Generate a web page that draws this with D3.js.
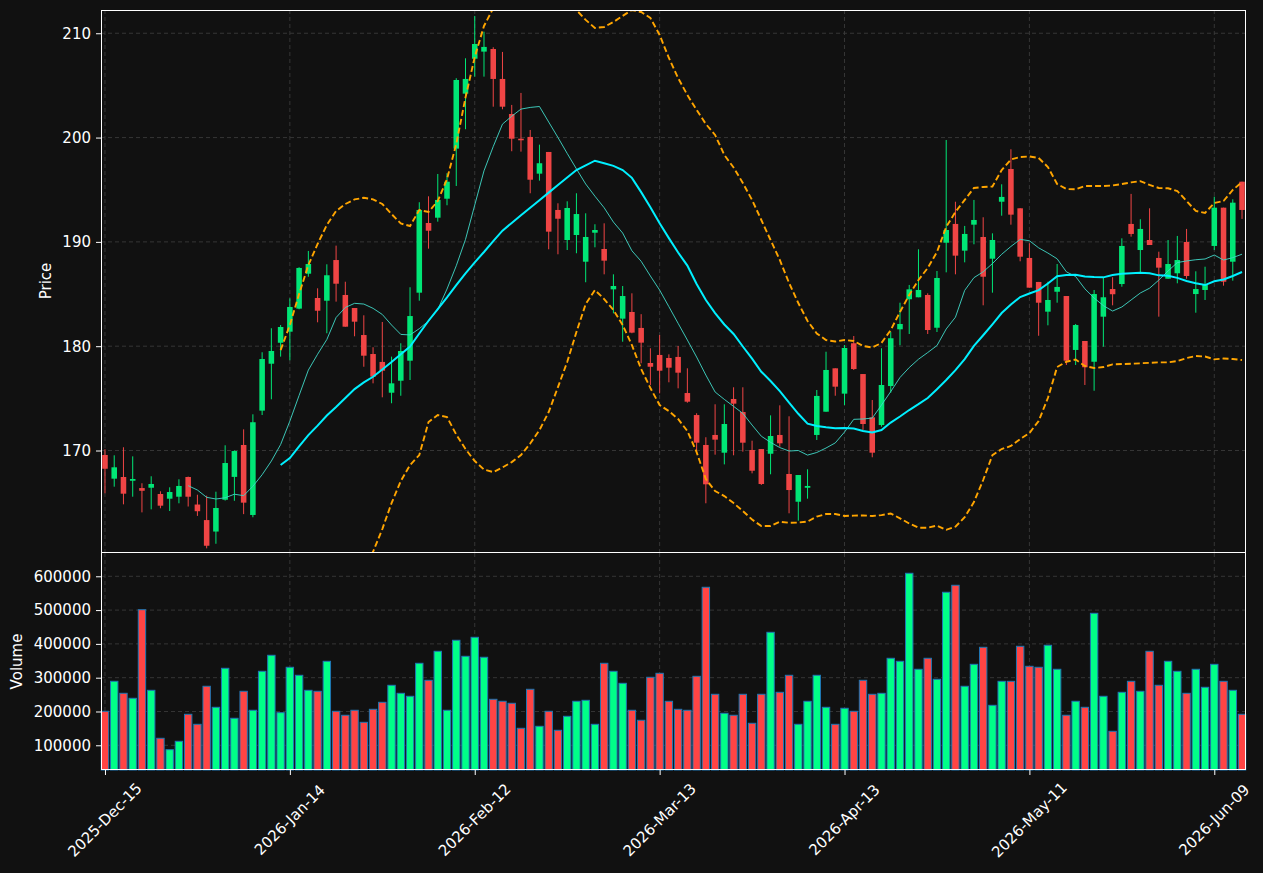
<!DOCTYPE html>
<html>
<head>
<meta charset="utf-8">
<script src="https://cdn.jsdelivr.net/npm/d3@7"></script>
<style>
  body { margin: 0; background: #111111; }
  svg text { font-family: "DejaVu Sans", sans-serif; fill: #ffffff; }
</style>
</head>
<body>
<svg id="chart" width="1263" height="873"></svg>
<script>
// ---- data (trading-day index 0..123) ----
var tickIdx = [0, 20, 40, 60, 80, 100, 120];
var tickLabels = ["2025-Dec-15", "2026-Jan-14", "2026-Feb-12", "2026-Mar-13", "2026-Apr-13", "2026-May-11", "2026-Jun-09"];
var priceTicks = [170, 180, 190, 200, 210];
var volumeTicks = [100000, 200000, 300000, 400000, 500000, 600000];

var open = [
  169.57, 167.30, 167.46, 167.10, 166.40, 166.43, 165.83, 165.38, 165.57, 167.46,
  164.82, 163.33, 162.23, 165.28, 167.47, 170.53, 163.82, 173.82, 178.32, 180.33,
  181.39, 183.60, 186.95, 184.62, 184.36, 188.26, 184.91, 183.66, 181.07, 179.25,
  178.49, 175.54, 176.69, 178.61, 185.13, 191.81, 192.32, 194.14, 198.94, 204.21,
  207.56, 208.24, 208.49, 205.62, 202.26, 199.89, 200.06, 196.54, 198.62, 193.06,
  190.18, 190.66, 188.10, 190.88, 189.32, 185.45, 182.64, 183.28, 181.75, 178.39,
  179.16, 178.87, 178.97, 175.51, 173.40, 170.53, 171.49, 169.79, 174.94, 173.69,
  170.05, 170.14, 169.69, 171.49, 167.75, 165.09, 166.43, 171.49, 173.72, 177.88,
  175.45, 180.28, 177.33, 173.18, 172.44, 176.18, 181.62, 184.50, 184.69, 184.91,
  181.77, 189.92, 191.72, 189.16, 191.65, 190.47, 188.39, 193.85, 196.99, 193.22,
  188.46, 186.16, 183.31, 185.22, 184.81, 179.64, 180.50, 178.51, 182.83, 185.48,
  185.96, 191.72, 189.22, 190.18, 188.46, 186.47, 186.99, 189.99, 185.00, 185.39,
  189.61, 193.28, 188.10, 195.77
];
var high = [
  170.12, 169.54, 170.31, 169.44, 166.86, 167.53, 166.09, 166.47, 167.24, 167.50,
  165.76, 165.67, 166.05, 170.50, 170.00, 172.03, 173.47, 179.42, 181.72, 182.03,
  184.59, 187.57, 189.13, 185.55, 187.85, 189.64, 186.18, 183.66, 182.96, 179.90,
  182.32, 179.00, 180.28, 185.65, 193.80, 194.37, 196.51, 196.58, 205.69, 207.60,
  211.66, 210.15, 208.66, 208.21, 203.13, 204.28, 200.73, 199.32, 198.62, 193.70,
  193.89, 194.66, 192.74, 191.69, 191.78, 186.89, 185.77, 185.07, 183.07, 179.80,
  181.07, 179.22, 180.02, 177.88, 173.57, 171.27, 174.43, 174.43, 176.06, 176.06,
  170.94, 170.14, 173.37, 174.33, 173.28, 167.65, 168.20, 175.80, 179.47, 177.88,
  180.11, 180.98, 177.33, 174.84, 179.80, 181.39, 184.17, 185.87, 189.29, 185.07,
  187.21, 199.77, 193.85, 191.53, 194.02, 192.36, 190.82, 195.52, 198.88, 193.22,
  189.87, 186.16, 186.18, 187.88, 184.81, 182.13, 180.50, 185.39, 186.61, 186.61,
  190.34, 194.60, 192.17, 193.22, 189.06, 190.18, 190.57, 191.24, 187.18, 187.62,
  194.33, 193.28, 194.08, 195.77
];
var low = [
  165.90, 166.53, 164.84, 165.57, 164.07, 164.36, 164.46, 164.20, 164.94, 164.63,
  163.73, 160.62, 161.06, 165.20, 165.18, 163.90, 163.60, 173.40, 174.91, 179.00,
  178.65, 183.54, 186.66, 182.29, 181.24, 184.27, 181.87, 180.95, 178.03, 176.44,
  175.10, 174.53, 175.25, 176.76, 184.36, 189.35, 191.94, 193.51, 195.36, 200.80,
  205.84, 205.84, 202.96, 202.71, 198.69, 198.65, 194.66, 195.87, 189.29, 188.81,
  189.22, 188.91, 186.13, 189.48, 186.89, 183.15, 180.43, 181.24, 178.36, 176.28,
  175.48, 176.54, 175.96, 174.58, 169.89, 164.94, 169.60, 168.67, 169.54, 169.89,
  167.81, 166.70, 167.72, 170.36, 163.98, 163.27, 165.38, 171.01, 173.72, 175.25,
  174.36, 177.72, 171.97, 169.35, 172.28, 175.54, 180.09, 181.17, 184.69, 181.17,
  181.36, 187.08, 186.89, 188.04, 189.77, 183.92, 185.13, 192.51, 191.65, 188.14,
  185.61, 181.00, 182.00, 184.17, 178.20, 178.20, 176.28, 175.73, 179.95, 183.92,
  185.70, 190.50, 187.05, 189.70, 182.83, 186.47, 186.03, 186.47, 183.21, 184.43,
  189.22, 185.80, 186.28, 192.20
];
var close = [
  168.25, 168.39, 165.86, 167.27, 166.14, 166.79, 164.71, 166.02, 166.60, 165.57,
  164.18, 160.87, 164.49, 168.80, 169.95, 165.00, 172.71, 178.77, 179.54, 181.84,
  183.76, 187.50, 187.88, 183.40, 186.80, 185.99, 181.87, 182.35, 179.09, 177.08,
  177.65, 176.44, 179.54, 182.89, 193.06, 191.07, 194.02, 195.77, 205.52, 205.62,
  208.97, 208.69, 205.62, 202.96, 199.89, 199.74, 195.96, 197.54, 190.98, 192.22,
  193.25, 192.67, 190.47, 191.14, 188.20, 185.77, 184.81, 181.30, 180.34, 178.03,
  177.65, 177.94, 177.46, 174.68, 170.75, 166.76, 171.04, 172.54, 174.49, 170.75,
  168.06, 166.79, 171.39, 170.69, 166.21, 167.65, 166.60, 175.23, 177.72, 176.12,
  179.83, 177.81, 172.54, 169.79, 176.28, 180.76, 182.13, 185.45, 185.39, 181.55,
  186.54, 191.14, 188.68, 190.76, 192.10, 186.66, 190.18, 194.31, 192.61, 188.58,
  185.61, 184.17, 184.43, 185.68, 178.61, 182.03, 177.98, 185.00, 184.69, 184.98,
  189.61, 190.76, 191.24, 189.70, 187.53, 187.88, 188.26, 186.73, 185.48, 185.87,
  193.28, 186.18, 193.76, 193.06
];
var volume = [
  200600, 289350, 253850, 239050, 501200, 262700, 120700, 87000, 111800, 191700,
  162100, 274600, 212400, 327800, 179900, 259800, 203600, 318900, 366300, 196500,
  330800, 307100, 262700, 259800, 348500, 200600, 188800, 203600, 168000, 206500,
  227200, 277500, 253800, 245000, 342600, 292300, 378100, 203600, 410700, 363300,
  419500, 360400, 236100, 230200, 224300, 150300, 265700, 156200, 200600, 144400,
  185800, 230200, 233100, 162100, 342600, 318900, 283400, 203600, 174000, 301200,
  313000, 230200, 206500, 203600, 304100, 567500, 250900, 194700, 188800, 250900,
  165100, 250900, 434300, 256800, 307100, 162100, 230200, 307100, 212400, 162100,
  209500, 200600, 292300, 250900, 253800, 357400, 348500, 608900, 324900, 357400,
  295300, 552700, 573400, 274600, 339600, 389900, 218300, 289300, 289300, 392900,
  333700, 330800, 395900, 324900, 188800, 230200, 212400, 490500, 245000, 141400,
  256800, 289300, 259800, 378100, 277500, 348500, 318900, 253800, 324900, 271600,
  339600, 289300, 262700, 191700
];

// overlay lines; first value sits at the given index
var ma10Start = 9;
var ma10 = [
  166.63, 166.21, 165.51, 165.35, 165.47, 165.81, 165.67, 166.57, 167.68, 168.99,
  170.57, 172.82, 175.28, 177.71, 179.23, 180.64, 182.75, 183.71, 184.11, 184.04,
  183.63, 183.04, 182.03, 181.13, 181.08, 181.68, 182.41, 183.52, 185.48, 187.71,
  190.24, 193.53, 196.81, 199.14, 201.29, 202.05, 202.73, 202.89, 202.98, 201.49,
  200.01, 198.48, 197.00, 195.55, 194.38, 193.27, 191.90, 190.85, 189.15, 188.14,
  186.73, 185.38, 183.79, 182.19, 180.59, 178.96, 177.23, 175.61, 174.90, 174.23,
  173.56, 172.44, 171.37, 170.78, 170.28, 169.95, 170.00, 169.56, 169.81, 170.24,
  170.73, 171.77, 172.99, 173.02, 173.11, 174.36, 175.65, 177.00, 177.95, 178.75,
  179.39, 180.06, 181.65, 182.78, 185.35, 186.57, 187.13, 187.92, 188.81, 189.56,
  190.24, 190.11, 189.43, 188.93, 188.38, 187.13, 186.68, 185.50, 184.62, 183.89,
  183.37, 183.76, 184.43, 185.10, 185.56, 186.34, 187.21, 188.02, 188.17, 188.29,
  188.36, 188.74, 188.26, 188.49, 188.82
];
var ma20Start = 19;
var ma20 = [
  168.61, 169.28, 170.40, 171.48, 172.39, 173.35, 174.17, 175.04, 175.89, 176.53,
  177.07, 177.77, 178.48, 179.23, 179.97, 181.22, 182.44, 183.56, 184.68, 185.86,
  186.99, 188.04, 189.03, 190.08, 191.08, 191.82, 192.55, 193.28, 194.00, 194.72,
  195.45, 196.17, 196.89, 197.34, 197.78, 197.53, 197.29, 196.89, 196.14, 194.77,
  193.33, 191.78, 190.36, 188.98, 187.73, 185.96, 184.43, 183.18, 182.08, 181.17,
  179.97, 178.81, 177.55, 176.66, 175.69, 174.58, 173.52, 172.58, 172.35, 172.22,
  172.13, 172.15, 172.11, 171.87, 171.72, 171.96, 172.68, 173.26, 173.88, 174.44,
  175.03, 175.88, 176.76, 177.70, 178.77, 180.03, 181.05, 182.10, 183.18, 183.99,
  184.71, 185.05, 185.37, 186.01, 186.70, 186.82, 186.85, 186.68, 186.63, 186.60,
  186.82, 186.94, 187.00, 187.04, 186.99, 186.79, 186.75, 186.55, 186.25, 186.03,
  185.86, 186.22, 186.40, 186.73, 187.11
];
var bandStart = 19;
var upperBand = [
  179.63, 182.03, 185.00, 187.78, 189.80, 191.62, 192.96, 193.63, 194.07, 194.23,
  194.08, 193.63, 192.67, 191.76, 191.52, 193.06, 192.86, 193.92, 196.03, 199.38,
  203.84, 207.72, 210.70, 212.40, 213.79, 214.75, 215.54, 215.89, 216.04, 215.75,
  214.82, 213.86, 212.23, 211.28, 210.51, 210.60, 211.08, 211.66, 212.23, 212.04,
  211.47, 209.84, 207.63, 205.71, 204.08, 202.65, 201.30, 200.25, 198.33, 197.13,
  195.65, 194.02, 192.10, 190.18, 188.27, 186.06, 184.14, 182.42, 181.22, 180.59,
  180.45, 180.59, 180.50, 180.02, 179.87, 180.31, 181.55, 183.28, 184.91, 186.35,
  187.50, 189.03, 191.43, 192.87, 194.02, 195.17, 195.26, 195.31, 196.89, 197.90,
  198.14, 198.19, 198.04, 197.18, 195.55, 195.07, 195.04, 195.36, 195.36, 195.36,
  195.41, 195.55, 195.70, 195.82, 195.46, 195.17, 195.14, 194.88, 193.92, 192.96,
  192.77, 193.73, 193.92, 194.98, 195.74
];
var lowerBand = [
  157.59, 156.53, 155.80, 155.18, 154.98, 155.08, 155.38, 156.45, 157.71, 158.83,
  160.29, 162.47, 164.96, 167.07, 168.61, 169.56, 172.73, 173.40, 173.21, 171.53,
  170.14, 168.99, 168.17, 167.93, 168.37, 168.89, 169.56, 170.67, 171.96, 173.69,
  176.08, 178.48, 181.36, 184.04, 185.38, 184.52, 183.47, 182.03, 180.11, 177.81,
  175.99, 174.36, 173.78, 173.02, 171.87, 169.85, 167.26, 166.11, 165.63, 164.96,
  164.20, 163.38, 162.76, 162.76, 163.17, 163.07, 163.09, 163.19, 163.67, 163.91,
  163.91, 163.72, 163.76, 163.78, 163.72, 163.81, 163.96, 163.50, 163.00, 162.60,
  162.60, 162.80, 162.40, 162.70, 163.60, 165.06, 167.17, 169.56, 170.14, 170.43,
  171.10, 171.67, 172.83, 175.03, 178.00, 178.51, 178.72, 178.10, 177.91, 178.00,
  178.26, 178.29, 178.32, 178.36, 178.41, 178.45, 178.45, 178.58, 178.86, 179.06,
  179.01, 178.74, 178.82, 178.77, 178.67
];

// ---- layout ----
var W = 1263, H = 873;
var left = 101, right = 1246;
var priceTop = 10, priceBottom = 552;
var volTop = 553, volBottom = 770;

var upColor = "#00e676", downColor = "#f04545";
var upVol = "#00ff88", downVol = "#ff4444";
var fontSize = "15px";

var svg = d3.select("#chart");
svg.append("rect").attr("width", W).attr("height", H).attr("fill", "#111111");

var n = close.length;
var x = d3.scaleLinear().domain([-0.43, n - 1 + 0.43]).range([left, right]);
var step = x(1) - x(0);
var yPrice = d3.scaleLinear().domain([160.27, 212.23]).range([priceBottom, priceTop]);
var yVol = d3.scaleLinear().domain([26900, 668900]).range([volBottom, volTop]);

var defs = svg.append("defs");
defs.append("clipPath").attr("id", "clipPrice")
  .append("rect").attr("x", left).attr("y", priceTop)
  .attr("width", right - left).attr("height", priceBottom - priceTop);

// grid lines
var grid = svg.append("g").attr("class", "grid")
  .style("stroke", "#3a3a3a").style("stroke-width", 0.9).style("stroke-dasharray", "4,3");

grid.selectAll(".hp").data(priceTicks).enter().append("line")
  .attr("x1", left).attr("x2", right)
  .attr("y1", function(d) { return yPrice(d); })
  .attr("y2", function(d) { return yPrice(d); });
grid.selectAll(".hv").data(volumeTicks).enter().append("line")
  .attr("x1", left).attr("x2", right)
  .attr("y1", function(d) { return yVol(d); })
  .attr("y2", function(d) { return yVol(d); });
grid.selectAll(".vp").data(tickIdx).enter().append("line")
  .attr("x1", function(d) { return x(d); }).attr("x2", function(d) { return x(d); })
  .attr("y1", priceTop).attr("y2", priceBottom);
grid.selectAll(".vv").data(tickIdx).enter().append("line")
  .attr("x1", function(d) { return x(d); }).attr("x2", function(d) { return x(d); })
  .attr("y1", volTop).attr("y2", volBottom);

// candles
var bars = d3.range(n).map(function(i) {
  return {i: i, o: open[i], h: high[i], l: low[i], c: close[i], v: volume[i], up: close[i] >= open[i]};
});

var candles = svg.append("g").attr("clip-path", "url(#clipPrice)");
candles.selectAll(".wick").data(bars).enter().append("line")
  .attr("class", "wick")
  .attr("x1", function(d) { return x(d.i); })
  .attr("x2", function(d) { return x(d.i); })
  .attr("y1", function(d) { return yPrice(d.h); })
  .attr("y2", function(d) { return yPrice(d.l); })
  .style("stroke", function(d) { return d.up ? upColor : downColor; })
  .style("stroke-width", 1);

var bodyW = step * 0.6;
candles.selectAll(".body").data(bars).enter().append("rect")
  .attr("class", "body")
  .attr("x", function(d) { return x(d.i) - bodyW / 2; })
  .attr("width", bodyW)
  .attr("y", function(d) { return yPrice(Math.max(d.o, d.c)); })
  .attr("height", function(d) { return Math.max(1, Math.abs(yPrice(d.o) - yPrice(d.c))); })
  .style("fill", function(d) { return d.up ? upColor : downColor; });

// overlays
function series(values, start) {
  return values.map(function(v, k) { return [start + k, v]; });
}
var line = d3.line()
  .x(function(d) { return x(d[0]); })
  .y(function(d) { return yPrice(d[1]); });

var overlays = svg.append("g").attr("clip-path", "url(#clipPrice)");
overlays.append("path").datum(series(upperBand, bandStart))
  .attr("d", line).style("fill", "none").style("stroke", "#ffa500")
  .style("stroke-width", 1.9).style("stroke-dasharray", "6,3");
overlays.append("path").datum(series(lowerBand, bandStart))
  .attr("d", line).style("fill", "none").style("stroke", "#ffa500")
  .style("stroke-width", 1.9).style("stroke-dasharray", "6,3");
overlays.append("path").datum(series(ma10, ma10Start))
  .attr("d", line).style("fill", "none").style("stroke", "#40d8c8")
  .style("stroke-width", 1).style("opacity", 0.9);
overlays.append("path").datum(series(ma20, ma20Start))
  .attr("d", line).style("fill", "none").style("stroke", "#00f0ff")
  .style("stroke-width", 2);

// volume bars
var volW = step * 0.8;
svg.append("g").selectAll(".vol").data(bars).enter().append("rect")
  .attr("class", "vol")
  .attr("x", function(d) { return x(d.i) - volW / 2; })
  .attr("width", volW)
  .attr("y", function(d) { return yVol(d.v); })
  .attr("height", function(d) { return volBottom - yVol(d.v); })
  .style("fill", function(d) { return d.up ? upVol : downVol; })
  .style("stroke", "#1f77b4")
  .style("stroke-width", 1);

// frames (half-pixel offsets keep the 1px white edges crisp)
svg.append("rect").attr("x", left + 0.5).attr("y", priceTop + 0.5)
  .attr("width", right - left - 1).attr("height", priceBottom - priceTop)
  .style("fill", "none").style("stroke", "#ffffff").style("stroke-width", 1);
svg.append("rect").attr("x", left + 0.5).attr("y", volTop - 0.5)
  .attr("width", right - left - 1).attr("height", volBottom - volTop)
  .style("fill", "none").style("stroke", "#ffffff").style("stroke-width", 1);

// axes
function styleAxis(g) {
  g.select(".domain").remove();
  g.selectAll(".tick line").style("stroke", "#ffffff");
  g.selectAll(".tick text").style("fill", "#ffffff").style("font-size", fontSize)
    .style("font-family", "DejaVu Sans");
}
svg.append("g").attr("transform", "translate(" + left + ",0)")
  .call(d3.axisLeft(yPrice).tickValues(priceTicks).tickSize(5).tickPadding(5))
  .call(styleAxis);
svg.append("g").attr("transform", "translate(" + left + ",0)")
  .call(d3.axisLeft(yVol).tickValues(volumeTicks).tickSize(5).tickPadding(5).tickFormat(d3.format("d")))
  .call(styleAxis);

var xAxis = svg.append("g").attr("transform", "translate(0," + volBottom + ")")
  .call(d3.axisBottom(x).tickValues(tickIdx).tickSize(5).tickFormat(""));
styleAxis(xAxis);

svg.append("g").selectAll(".xl").data(tickIdx).enter().append("text")
  .attr("transform", function(d) { return "translate(" + x(d) + ",820) rotate(-45)"; })
  .attr("text-anchor", "middle")
  .attr("dominant-baseline", "central")
  .style("font-size", fontSize)
  .text(function(d, k) { return tickLabels[k]; });

// axis titles
svg.append("text")
  .attr("transform", "translate(46," + ((priceTop + priceBottom) / 2) + ") rotate(-90)")
  .attr("text-anchor", "middle").attr("dominant-baseline", "central")
  .style("font-size", fontSize).text("Price");
svg.append("text")
  .attr("transform", "translate(17," + ((volTop + volBottom) / 2) + ") rotate(-90)")
  .attr("text-anchor", "middle").attr("dominant-baseline", "central")
  .style("font-size", fontSize).text("Volume");
</script>
</body>
</html>
